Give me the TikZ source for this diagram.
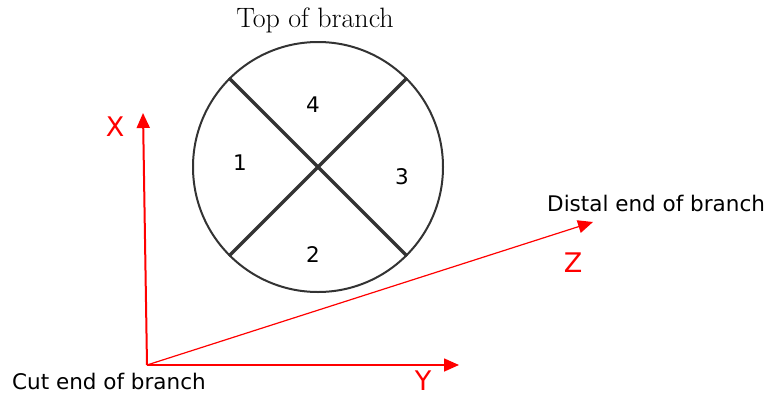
\documentclass[tikz,border=0pt]{standalone}
\usepackage{fontspec}
\setsansfont{DejaVu Sans}
\usepackage{tikz}
\usetikzlibrary{positioning}
\usetikzlibrary{arrows.meta}

\definecolor{rimgray}{RGB}{51,51,51}

\tikzset{
    axis/.style={red, -{Triangle[length=15pt,width=13pt]}},
    lbl/.style={font=\sffamily\fontsize{21.5}{25}\selectfont, inner sep=0pt},
    axlbl/.style={font=\sffamily\fontsize{27}{30}\selectfont, text=red, inner sep=0pt},
}

\begin{document}
\begin{tikzpicture}[x=1pt, y=-1pt]
    \useasboundingbox (0,0) rectangle (764,397);

    % axes
    \coordinate (o) at (147,365);
    \coordinate (xtip) at (143,113);
    \coordinate (ytip) at (459,365);
    \coordinate (ztip) at (593,222);

    \draw[axis, line width=2pt] (o) -- (xtip);
    \draw[axis, line width=1.6pt] (o) -- (ytip);
    \draw[axis, line width=1.2pt] (o) -- (ztip);

    \node[axlbl] (xl) at (115,127) {X};
    \node[axlbl] (yl) at (423,381) {Y};
    \node[axlbl] (zl) at (573,263) {Z};

    % branch section
    \node[draw=rimgray, line width=2pt, circle, minimum size=250pt, inner sep=0pt] (sec) at (318,167) {};
    \draw[rimgray, line width=3.5pt] (sec.135) -- (sec.-45);
    \draw[rimgray, line width=3.5pt] (sec.45) -- (sec.-135);

    \node[lbl] (q4) at (313,105) {4};
    \node[lbl] (q1) at (240,163) {1};
    \node[lbl] (q3) at (402,177) {3};
    \node[lbl] (q2) at (313,255) {2};

    \node[font=\fontsize{28}{30}\selectfont, inner sep=0pt] (top) at (315,20) {Top of branch};
    \node[lbl, anchor=west] (cut) at (12,381) {Cut end of branch};
    \node[lbl, anchor=west] (distal) at (547,203) {Distal end of branch};
\end{tikzpicture}
\end{document}
